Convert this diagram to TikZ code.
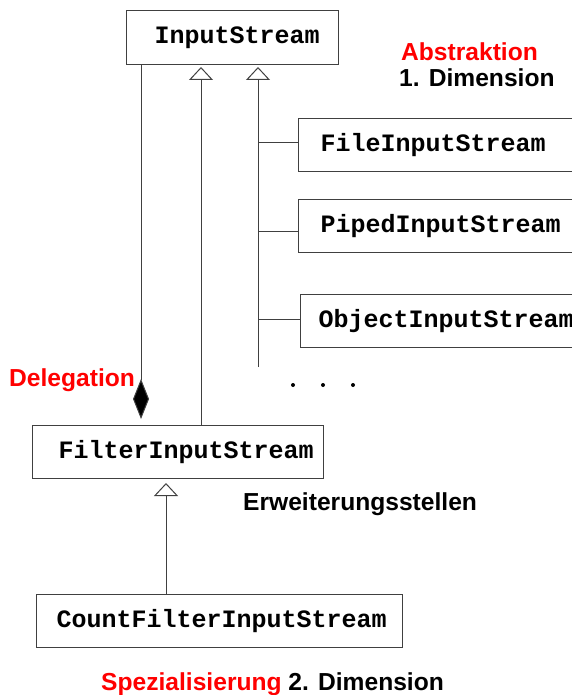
\documentclass[tikz,border=0pt]{standalone}
\usepackage{fontspec}
\setmainfont{Liberation Sans}
\newfontfamily\monofont{Liberation Mono}
\usetikzlibrary{arrows.meta}
\definecolor{linegray}{gray}{0.25}
\definecolor{labelred}{rgb}{1,0,0}
\tikzset{
  cls/.style={draw=linegray, line width=1pt, font=\monofont\bfseries\fontsize{25}{28}\selectfont,
    inner xsep=0pt, inner ysep=0pt, align=left, anchor=north west},
  gen/.style={draw=linegray, line width=1pt, -{Triangle[open, length=13pt, width=24pt, fill=white]}},
  conn/.style={draw=linegray, line width=1pt},
  lbl/.style={font=\bfseries\fontsize{24.6}{27}\selectfont, anchor=base west, inner sep=0pt},
}
\begin{document}
\begin{tikzpicture}[x=1pt,y=-1pt]
\useasboundingbox (0,0) rectangle (572,695);
\clip (0,0) rectangle (572,695);
% classes
\node[cls, text width=212pt, minimum height=54pt] (ins) at (126,10) {\hspace*{28pt}InputStream};
\node[cls, text width=290pt, minimum height=53pt] (file) at (298,118) {\hspace*{22pt}FileInputStream};
\node[cls, text width=290pt, minimum height=53pt] (piped) at (298,199) {\hspace*{22pt}PipedInputStream};
\node[cls, text width=290pt, minimum height=53pt] (object) at (300,294) {\hspace*{18pt}ObjectInputStream};
\node[cls, text width=291pt, minimum height=53pt] (filter) at (32,425) {\hspace*{26pt}FilterInputStream};
\node[cls, text width=366pt, minimum height=53pt] (count) at (36,594) {\hspace*{20pt}CountFilterInputStream};
% connector points
\coordinate (a1) at (201,67);
\coordinate (a2) at (258,67);
\coordinate (a3) at (166,483);
\coordinate (hend) at (258,367);
\coordinate (d) at (141,419);
\coordinate (b1) at (258,143);
\coordinate (b2) at (258,231);
\coordinate (b3) at (258,319);
% connectors
\draw[gen] (filter.north -| a1) -- (a1);
\draw[gen] (hend) -- (a2);
\draw[conn] (b1) -- (b1 -| file.west);
\draw[conn] (b2) -- (b2 -| piped.west);
\draw[conn] (b3) -- (b3 -| object.west);
\draw[conn, -{Diamond[length=40pt, width=16pt, fill=black]}] (ins.south -| d) -- (d);
\draw[gen] (count.north -| a3) -- (a3);
% dots
\fill (293,385) circle[radius=2pt];
\fill (323,385) circle[radius=2pt];
\fill (353,385) circle[radius=2pt];
% labels
\node[lbl, text=labelred] (abs) at (401,61) {Abstraktion};
\node[lbl] (dim1) at (399,87) {1. Dimension};
\node[lbl, text=labelred] (del) at (9,386) {Delegation};
\node[lbl] (erw) at (243,510) {Erweiterungsstellen};
\node[lbl] (spez) at (101,690) {\textcolor{labelred}{Spezialisierung} 2. Dimension};
\end{tikzpicture}
\end{document}
